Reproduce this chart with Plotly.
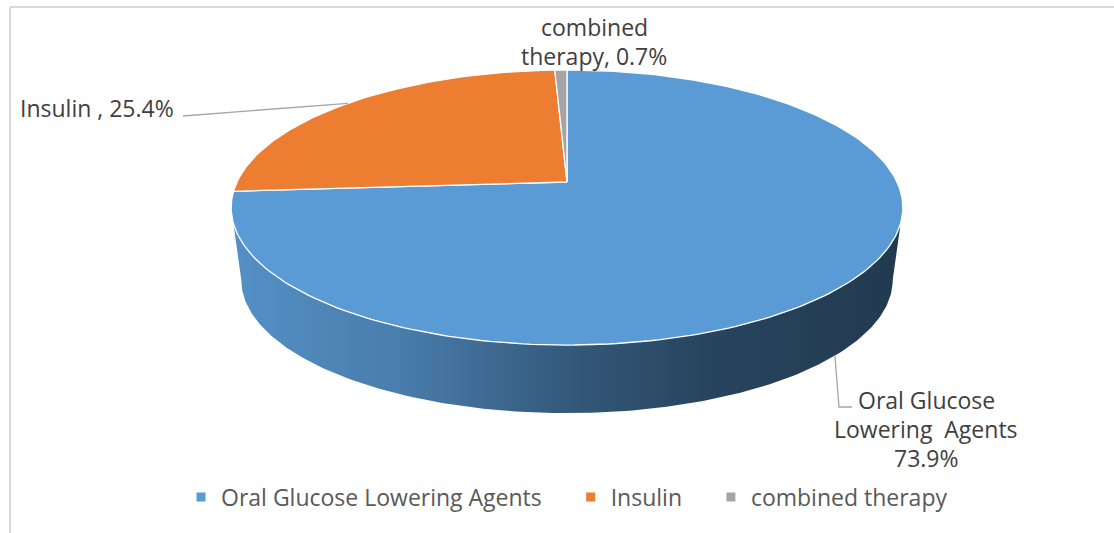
import numpy as np
import plotly.graph_objects as go

# ---- data -------------------------------------------------------------
categories = ["Oral Glucose Lowering Agents", "Insulin", "combined therapy"]
shares = [73.9, 25.4, 0.7]
label_lines = [
    ["Oral Glucose", "Lowering  Agents", "73.9%"],
    ["Insulin , 25.4%"],
    ["combined", "therapy, 0.7%"],
]
colors = ["#5B9BD5", "#ED7D31", "#A5A5A5"]

# ---- 3D pie geometry (pixel space, perspective-projected disc) --------
W, H = 1114, 533
CX, CY = 567, 182          # projected disc centre
A, B, K = 330, 132.8, 0.1855   # half-axes and perspective strength
S_BOT, DEPTH = 0.97, 73     # bottom face scale and vertical offset


def top(theta):
    """Point on the top rim; theta runs clockwise from 12 o'clock."""
    u = np.sin(theta)
    v = -np.cos(theta)
    w = 1 - K * v
    return CX + A * u / w, CY + B * v / w


def bottom(theta):
    x, y = top(theta)
    return CX + S_BOT * (x - CX), CY + S_BOT * (y - CY) + DEPTH


def shade(hexcol, f):
    r, g, b = (int(hexcol[i:i + 2], 16) for i in (1, 3, 5))
    return "rgb(%d,%d,%d)" % (r * f, g * f, b * f)


# silhouette angles of the visible front wall
th_r = np.arccos(-K)
th_l = 2 * np.pi - th_r
x_left = CX - A / np.sqrt(1 - K * K)
x_right = CX + A / np.sqrt(1 - K * K)

total = sum(shares)
bounds = np.concatenate([[0], np.cumsum(shares)]) / total * 2 * np.pi

fig = go.Figure()

# front wall of each slice (only the part facing the viewer)
for i, c in enumerate(colors):
    a0, a1 = max(bounds[i], th_r), min(bounds[i + 1], th_l)
    if a1 <= a0:
        continue
    t = np.linspace(a0, a1, 200)
    xt, yt = top(t)
    xb, yb = bottom(t[::-1])
    fig.add_trace(go.Scatter(
        x=np.concatenate([xt, xb, xt[:1]]),
        y=np.concatenate([yt, yb, yt[:1]]),
        mode="lines", line=dict(width=0), fill="toself",
        fillgradient=dict(
            type="horizontal", start=x_left, stop=x_right,
            colorscale=[[0, shade(c, 0.93)], [0.25, shade(c, 0.81)],
                        [0.5, shade(c, 0.58)], [0.7, shade(c, 0.45)],
                        [0.85, shade(c, 0.41)], [1, shade(c, 0.38)]]),
        hoverinfo="skip", showlegend=False))

# top faces
for i, c in enumerate(colors):
    t = np.linspace(bounds[i], bounds[i + 1], max(4, int(300 * shares[i] / total)))
    xa, ya = top(t)
    fig.add_trace(go.Scatter(
        x=np.concatenate([[CX], xa, [CX]]),
        y=np.concatenate([[CY], ya, [CY]]),
        mode="lines", line=dict(color="white", width=1.3),
        fill="toself", fillcolor=c,
        hoverinfo="skip", showlegend=False))

# legend entries (non-breaking spaces widen the gap between entries)
NBSP = "\u00a0" * 4
for k, (name, c) in enumerate(zip(categories, colors)):
    pad = NBSP if k < len(categories) - 1 else ""
    fig.add_trace(go.Scatter(
        x=[None], y=[None], mode="markers", name=name + pad,
        marker=dict(symbol="square", size=9, color=c)))

# data labels with leader lines
mid = (bounds[:-1] + bounds[1:]) / 2
FONT = "Open Sans"
FS = 23
LH = 29
label_anchor = [(926, 400), (97, 108), (594, 27)]
for lines, (lx, ly) in zip(label_lines, label_anchor):
    for j, s in enumerate(lines):
        fig.add_annotation(x=lx, y=ly + j * LH, text=s, showarrow=False,
                           xanchor="center", yanchor="middle",
                           font=dict(family=FONT, size=FS, color="#404040"))

# leader: Oral Glucose Lowering Agents (from bottom rim at mid-angle)
bx, by = bottom(mid[0])
fig.add_trace(go.Scatter(x=[bx, 839, 852], y=[by, 407, 407], mode="lines",
                         line=dict(color="#a6a6a6", width=1.3),
                         hoverinfo="skip", showlegend=False))
# leader: Insulin (from top rim at mid-angle)
ix, iy = top(mid[1])
fig.add_trace(go.Scatter(x=[ix, 192, 183], y=[iy, 116, 116], mode="lines",
                         line=dict(color="#a6a6a6", width=1.3),
                         hoverinfo="skip", showlegend=False))

# chart area border
fig.add_shape(type="line", x0=10, y0=7, x1=W, y1=7,
              line=dict(color="#d9d9d9", width=2))
fig.add_shape(type="line", x0=10, y0=7, x1=10, y1=H,
              line=dict(color="#d9d9d9", width=2))

fig.update_layout(
    width=W, height=H, autosize=False,
    margin=dict(l=0, r=0, t=0, b=0),
    paper_bgcolor="white", plot_bgcolor="white",
    xaxis=dict(range=[0, W], visible=False, fixedrange=True),
    yaxis=dict(range=[H, 0], visible=False, fixedrange=True),
    legend=dict(orientation="h", x=0.509, xanchor="center",
                y=1 - 497 / H, yanchor="middle",
                font=dict(family=FONT, size=FS, color="#595959"),
                itemwidth=30, bgcolor="rgba(0,0,0,0)"),
    hovermode=False,
)

fig.write_html("out.html")
